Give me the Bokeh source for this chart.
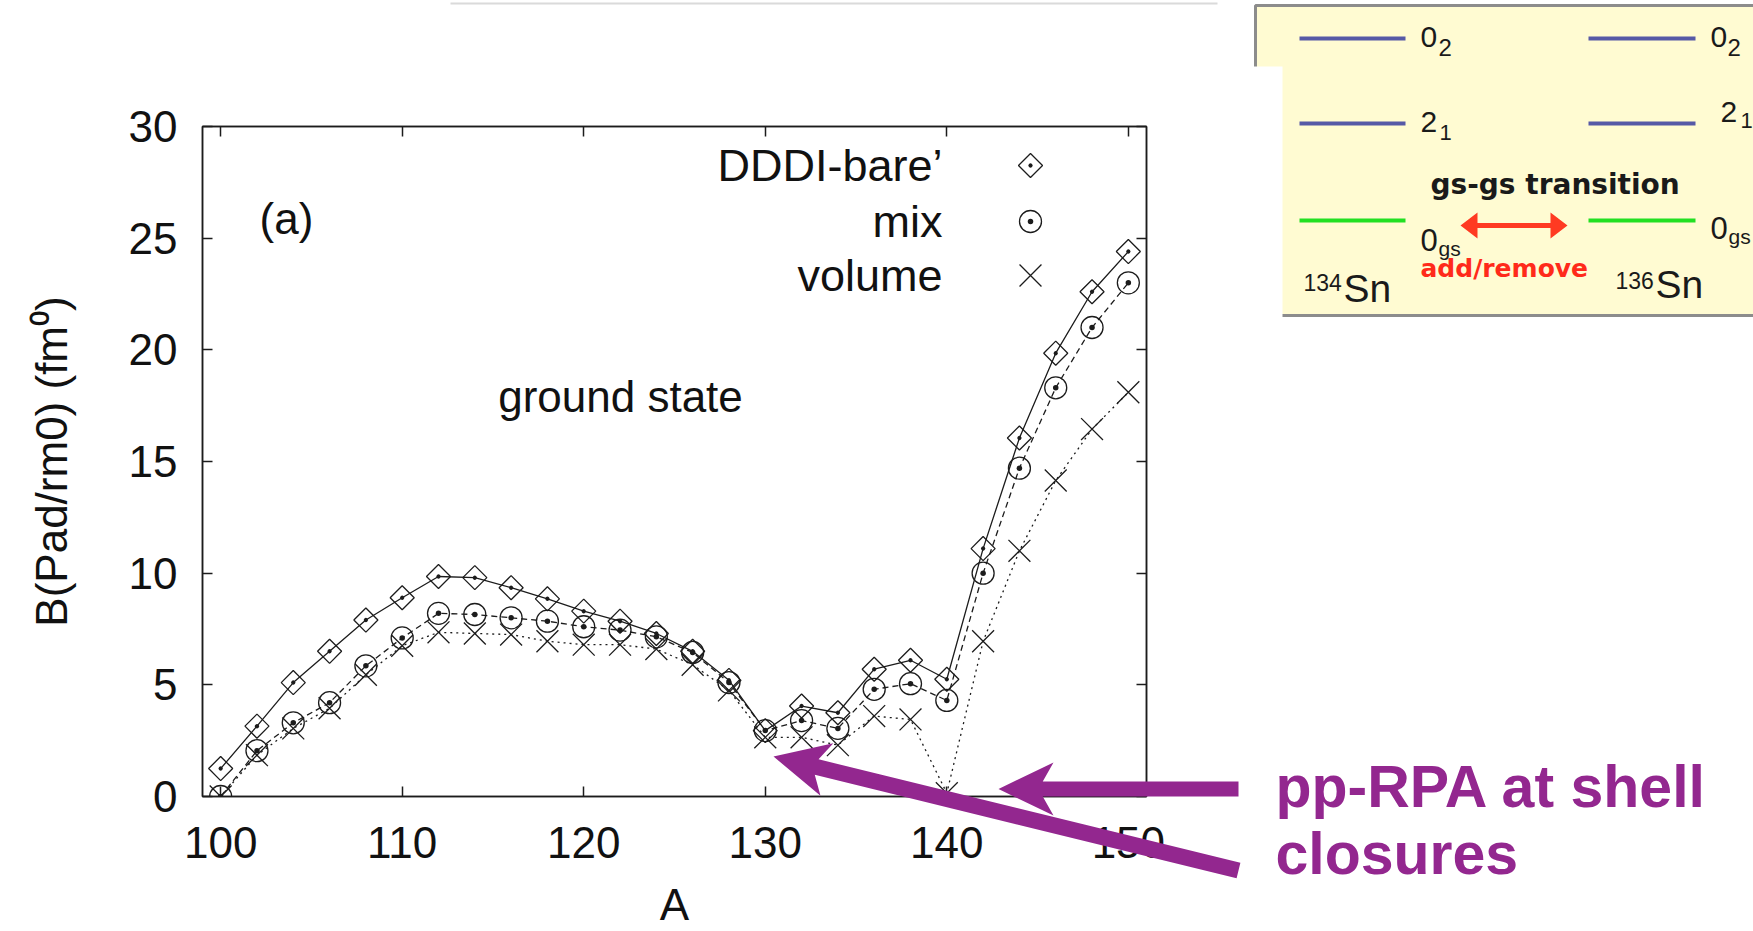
import math
from bokeh.plotting import figure
from bokeh.models import Range1d, LinearAxis, FixedTicker, Label, GridBox
from bokeh.embed import file_html
from bokeh.resources import INLINE

# ---------------- data ----------------
A = [100, 102, 104, 106, 108, 110, 112, 114, 116, 118, 120, 122, 124,
     126, 128, 130, 132, 134, 136, 138, 140, 142, 144, 146, 148, 150]
dddi_bare = [1.25, 3.15, 5.1, 6.5, 7.9, 8.9, 9.85, 9.8, 9.35, 8.85, 8.3, 7.85, 7.3,
             6.5, 5.2, 2.95, 4.05, 3.75, 5.7, 6.1, 5.25, 11.1, 16.05, 19.85, 22.6, 24.4]
mix = [0.0, 2.05, 3.3, 4.2, 5.85, 7.1, 8.2, 8.15, 8.0, 7.85, 7.6, 7.45, 7.15,
       6.45, 5.1, 2.95, 3.4, 3.05, 4.8, 5.05, 4.3, 10.0, 14.7, 18.3, 21.0, 23.0]
volume = [0.0, 1.85, 3.05, 3.95, 5.45, 6.75, 7.35, 7.3, 7.25, 6.95, 6.8, 6.8, 6.6,
          5.9, 4.75, 2.65, 2.65, 2.3, 3.6, 3.45, 0.15, 6.95, 11.0, 14.15, 16.45, 18.1]
series_names = ["DDDI-bare\u2019", "mix", "volume"]
x_ticks = [100, 110, 120, 130, 140, 150]
y_ticks = [0, 5, 10, 15, 20, 25, 30]
X_MIN, X_MAX = 99, 151
Y_MIN, Y_MAX = 0, 30

# ---------------- layout constants (canvas pixels) ----------------
W, H = 1753, 931
FL, FR, FT, FB = 202, 1146, 126, 796
FONT = "Liberation Sans"
INK = "#1c1c1c"
PURPLE = "#93278F"
BASE_SHIFT = 0.35  # Label centres its box on y; shift so that y acts as the baseline


def sx(cx):
    return cx - FL


def sy(cy):
    return FB - cy


def dx(cx):
    return X_MIN + (cx - FL) * (X_MAX - X_MIN) / (FR - FL)


def dy(cy):
    return Y_MAX - (cy - FT) * (Y_MAX - Y_MIN) / (FB - FT)


p = figure(width=W, height=H, output_backend="svg", toolbar_location=None,
           x_range=Range1d(X_MIN, X_MAX), y_range=Range1d(Y_MIN, Y_MAX),
           min_border_left=FL, min_border_right=W - FR,
           min_border_top=FT, min_border_bottom=H - FB,
           x_axis_label="A", y_axis_label="B(Pad/rm0) (fm\u2070)")
p.frame_align = False
p.grid.visible = False
p.background_fill_color = "white"
p.border_fill_color = "white"
p.outline_line_color = INK
p.outline_line_width = 1.5


def style_axis(ax, ticks, labels=True):
    ax.ticker = FixedTicker(ticks=ticks)
    ax.minor_tick_line_color = None
    ax.major_tick_in = 10
    ax.major_tick_out = 0
    ax.major_tick_line_color = INK
    ax.major_tick_line_width = 1.5
    ax.axis_line_color = INK
    ax.axis_line_width = 1.5
    ax.major_label_text_font = FONT
    ax.major_label_text_font_size = "44px"
    ax.major_label_text_color = "#111111"
    ax.axis_label_text_font = FONT
    ax.axis_label_text_font_size = "44px"
    ax.axis_label_text_font_style = "normal"
    ax.axis_label_text_color = "#111111"
    if not labels:
        ax.major_label_overrides = {t: "" for t in ticks}


style_axis(p.xaxis[0], x_ticks)
p.xaxis[0].major_label_standoff = 30
p.xaxis[0].axis_label_standoff = 19
style_axis(p.yaxis[0], y_ticks)
p.yaxis[0].major_label_standoff = 25
p.yaxis[0].axis_label_standoff = 50

top_ax = LinearAxis()
style_axis(top_ax, x_ticks, labels=False)
p.add_layout(top_ax, "above")
right_ax = LinearAxis()
style_axis(right_ax, y_ticks, labels=False)
p.add_layout(right_ax, "right")

# ---------------- series ----------------
LW = 1.3
MARK_DIAMOND = dict(marker="square_dot", angle=math.pi / 4, size=17)
MARK_CIRCLE = dict(marker="circle_dot", angle=0, size=22)
MARK_X = dict(marker="x", angle=0, size=31)
p.line(A, dddi_bare, line_color=INK, line_width=LW)
p.line(A, mix, line_color=INK, line_width=LW, line_dash="6 4")
p.line(A, volume, line_color=INK, line_width=LW, line_dash="2 4")
p.scatter(A, dddi_bare, fill_alpha=0, line_color=INK, line_width=LW, **MARK_DIAMOND)
p.scatter(A, mix, fill_alpha=0, line_color=INK, line_width=LW, **MARK_CIRCLE)
p.scatter(A, volume, line_color=INK, line_width=LW, **MARK_X)


def flabel(cx, base, text, size, color="#111111", align="left", font=FONT, style="normal"):
    """Label in the chart figure, (cx, base) = canvas x and text baseline."""
    p.add_layout(Label(x=sx(cx), y=sy(base - BASE_SHIFT * size), x_units="screen", y_units="screen",
                       text=text, text_font=font, text_font_size=f"{size}px",
                       text_font_style=style, text_color=color,
                       text_align=align, text_baseline="middle"))


# ---------------- key (text right-aligned, symbol to the right) ----------------
KEY_CX = 1030
KEY_ROWS_CY = [165, 221, 275]
KEY_TEXT_RIGHT = 942
for name, cy, mk in zip(series_names, KEY_ROWS_CY, [MARK_DIAMOND, MARK_CIRCLE, MARK_X]):
    p.scatter([dx(KEY_CX)], [dy(cy)], fill_alpha=0, line_color=INK, line_width=LW, **mk)
    flabel(KEY_TEXT_RIGHT, cy + 16, name, 45, align="right")

flabel(286, 233, "(a)", 44, align="center")
flabel(620, 411, "ground state", 44, align="center")

# ---------------- overlay figure covering the whole canvas ----------------
ov = figure(width=W, height=H, output_backend="svg", toolbar_location=None,
            x_range=Range1d(0, W), y_range=Range1d(H, 0), min_border=0,
            x_axis_type=None, y_axis_type=None)
ov.frame_align = False
ov.grid.visible = False
ov.background_fill_color = None
ov.border_fill_color = None
ov.outline_line_color = None


def olabel(cx, base, text, size, color="#1a1a1a", align="left", font=FONT, style="normal"):
    ov.add_layout(Label(x=cx, y=base - BASE_SHIFT * size, text=text, text_font=font,
                        text_font_size=f"{size}px", text_font_style=style, text_color=color,
                        text_align=align, text_baseline="middle"))


def rect(x0, y0, x1, y1, fill, line=None, lw=0):
    ov.patch([x0, x1, x1, x0], [y0, y0, y1, y1], fill_color=fill,
             line_color=line, line_width=lw)


# faint rule at the top of the slide
rect(450, 2, 1217, 4, "#dadada")

# inset: level scheme
rect(1255, 5, 1770, 315, "#FFFBD2", line="#8c8c8c", lw=3)
rect(1240, 66, 1282, 335, "#ffffff")
BLUE = "#5659A6"
GREEN = "#22E022"
for x0, x1 in [(1299, 1405), (1588, 1695)]:
    rect(x0, 36, x1, 40, BLUE)
    rect(x0, 121, x1, 125, BLUE)
    rect(x0, 218, x1, 222, GREEN)

olabel(1420, 47, "0", 30)
olabel(1438, 55, "2", 24)
olabel(1710, 47, "0", 30)
olabel(1727, 55, "2", 24)
olabel(1420, 132, "2", 30)
olabel(1439, 140, "1", 22)
olabel(1720, 122, "2", 30)
olabel(1740, 128, "1", 22)
olabel(1430, 194, "gs-gs transition", 28, font="DejaVu Sans", style="bold")
olabel(1420, 250, "0", 31)
olabel(1438, 255, "gs", 21)
olabel(1710, 238, "0", 31)
olabel(1728, 243, "gs", 21)
olabel(1420, 277, "add/remove", 25, "#FF2A1A", font="DejaVu Sans", style="bold")
olabel(1303, 290, "134", 23)
olabel(1343, 302, "Sn", 39)
olabel(1615, 288, "136", 23)
olabel(1655, 298, "Sn", 39)

# red double arrow
RED = "#FF3A22"
lt, rt, ay, hl, hw, st = 1460, 1567, 225, 17, 13, 2.5
ov.patch([lt, lt + hl, lt + hl, rt - hl, rt - hl, rt, rt - hl, rt - hl, lt + hl, lt + hl],
         [ay, ay - hw, ay - st, ay - st, ay - hw, ay, ay + hw, ay + st, ay + st, ay + hw],
         fill_color=RED, line_color=None)


# purple annotation
def arrow_shape(tip, tail, L=55, Wd=27, N=40, t=7.5):
    ux, uy = tail[0] - tip[0], tail[1] - tip[1]
    n = math.hypot(ux, uy)
    ux, uy = ux / n, uy / n
    nx, ny = -uy, ux
    back = N + (L - N) * t / Wd
    pts = [
        (tip[0], tip[1]),
        (tip[0] + L * ux + Wd * nx, tip[1] + L * uy + Wd * ny),
        (tip[0] + back * ux + t * nx, tip[1] + back * uy + t * ny),
        (tail[0] + t * nx, tail[1] + t * ny),
        (tail[0] - t * nx, tail[1] - t * ny),
        (tip[0] + back * ux - t * nx, tip[1] + back * uy - t * ny),
        (tip[0] + L * ux - Wd * nx, tip[1] + L * uy - Wd * ny),
    ]
    ov.patch([q[0] for q in pts], [q[1] for q in pts], fill_color=PURPLE, line_color=None)


arrow_shape((998, 788.5), (1238, 788.5), L=55, Wd=26.5, N=40, t=7.5)
arrow_shape((773, 756), (1238, 870), L=55, Wd=27, N=40, t=8)

olabel(1275, 807, "pp-RPA at shell", 59, PURPLE, style="bold")
olabel(1275, 874, "closures", 59, PURPLE, style="bold")

layout = GridBox(children=[(p, 0, 0), (ov, 0, 0)], width=W, height=H)
open("out.html", "w").write(file_html(layout, INLINE))
